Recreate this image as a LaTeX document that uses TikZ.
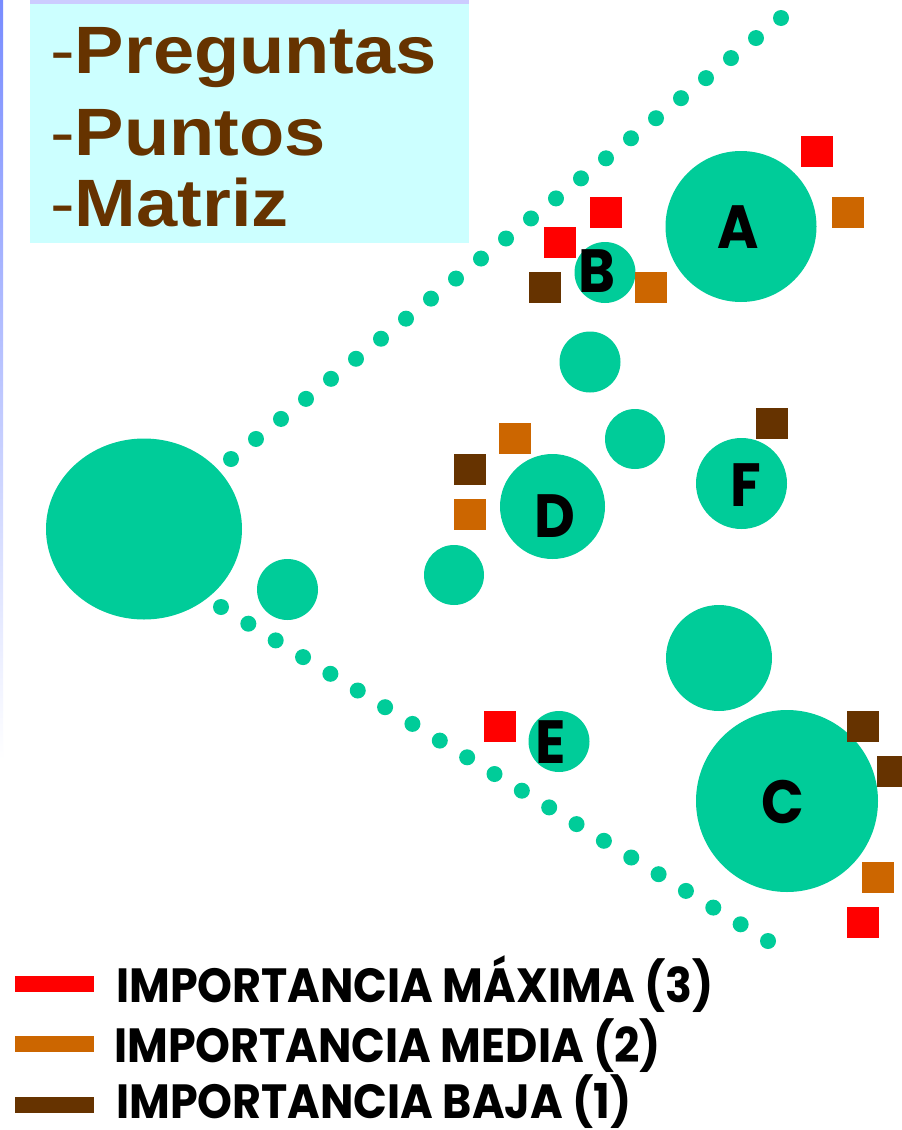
\documentclass[tikz,border=0pt]{standalone}
\usepackage{fontspec}
\usetikzlibrary{shapes.geometric,calc}
\newfontfamily\titlefont{Liberation Sans}[FakeStretch=1.105]
\newfontfamily\gfont{Poppins}[FakeStretch=0.92]
\newfontfamily\legfont{Poppins}[FakeStretch=0.925]
\definecolor{blobgreen}{HTML}{00CC99}
\definecolor{impred}{HTML}{FF0000}
\definecolor{imporange}{HTML}{CC6600}
\definecolor{impbrown}{HTML}{663300}
\definecolor{boxcyan}{HTML}{CCFFFF}
\definecolor{boxlav}{HTML}{CCCCFF}
\definecolor{stripblue}{RGB}{120,140,255}
\tikzset{
  blob/.style={circle, fill=blobgreen, draw=none, inner sep=0pt},
  letter/.style={anchor=base, inner sep=0pt, font=\gfont\bfseries\fontsize{61}{61}\selectfont},
  sq/.style={rectangle, minimum width=32, minimum height=31, inner sep=0pt, draw=none},
  redsq/.style={sq, fill=impred},
  orsq/.style={sq, fill=imporange},
  brsq/.style={sq, fill=impbrown},
  titleline/.style={anchor=base west, inner sep=0pt, text=impbrown, font=\titlefont\fontsize{67}{67}\selectfont},
  legtext/.style={anchor=base west, inner sep=0pt, font=\legfont\bfseries\fontsize{48}{48}\selectfont},
  legbar/.style={rectangle, minimum width=79, minimum height=16, inner sep=0pt, draw=none}
}
\begin{document}
\begin{tikzpicture}[x=1pt,y=-1pt]
\useasboundingbox (0,0) rectangle (902,1130);
\fill[white] (0,0) rectangle (902,1130);
% left strip
\shade[top color=stripblue, bottom color=white] (0,0) rectangle (3,760);
% title box
\fill[boxcyan] (30,4) rectangle (469,243);
\fill[boxlav] (30,0) rectangle (469,4);
\node[titleline] (t1) at (50,73) {-\textbf{Preguntas}};
\node[titleline] (t2) at (50,155) {-\textbf{Puntos}};
\node[titleline] (t3) at (50,226) {-\textbf{Matriz}};
% dotted lines
\coordinate (u0) at (231,459);
\coordinate (u1) at (781,18);
\coordinate (l0) at (221,607);
\coordinate (l1) at (768,941);
\foreach \i in {0,...,22} \fill[blobgreen] ($(u0)!\i/22!(u1)$) circle (8);
\foreach \i in {0,...,20} \fill[blobgreen] ($(l0)!\i/20!(l1)$) circle (8);
% circles
\node[ellipse, fill=blobgreen, draw=none, minimum width=196, minimum height=181, inner sep=0pt] (L) at (144,529) {};
\node[blob, minimum size=61] (s1) at (287.5,589.5) {};
\node[blob, minimum size=151] (A) at (741,226.5) {};
\node[blob, minimum size=61] (B) at (605,272.5) {};
\node[blob, minimum size=61] (c2) at (590,362) {};
\node[blob, minimum size=60] (c3) at (635,439) {};
\node[blob, minimum size=105] (D) at (552.5,506.5) {};
\node[blob, minimum size=91] (F) at (741.5,483.5) {};
\node[blob, minimum size=60] (c4) at (454,575) {};
\node[blob, minimum size=106] (c5) at (719,658) {};
\node[blob, minimum size=61] (E) at (559,741.5) {};
\node[blob, minimum size=182] (C) at (787,801) {};
% letters
\node[letter] (lA) at (738,248) {A};
\node[letter] (lB) at (596.5,292) {B};
\node[letter] (lC) at (783,823) {C};
\node[letter] (lD) at (555,537) {D};
\node[letter] (lE) at (551,763) {E};
\node[letter] (lF) at (746,506) {F};
% squares
\node[redsq] (r1) at (817,151.5) {};
\node[redsq] (r2) at (606,212.5) {};
\node[redsq] (r3) at (560,242.5) {};
\node[redsq] (r4) at (500,726.5) {};
\node[redsq] (r5) at (863,922.5) {};
\node[orsq] (o1) at (847.5,212.5) {};
\node[orsq] (o2) at (650.5,287.5) {};
\node[orsq] (o3) at (514.5,438.5) {};
\node[orsq] (o4) at (469.5,514.5) {};
\node[orsq] (o5) at (877.5,877.5) {};
\node[brsq] (b1) at (545,287) {};
\node[brsq] (b2) at (772,423) {};
\node[brsq] (b3) at (470,469) {};
\node[brsq] (b4) at (863,726) {};
\node[brsq] (b5) at (893,771) {};
% legend
\node[legbar, fill=impred] (k1) at (54.5,984) {};
\node[legbar, fill=imporange] (k2) at (54.5,1044) {};
\node[legbar, fill=impbrown] (k3) at (54.5,1105) {};
\node[legtext] (m1) at (116,1002) {IMPORTANCIA MÁXIMA (3)};
\node[legtext] (m2) at (114,1062) {IMPORTANCIA MEDIA (2)};
\node[legtext] (m3) at (116,1118) {IMPORTANCIA BAJA (1)};
\end{tikzpicture}
\end{document}
